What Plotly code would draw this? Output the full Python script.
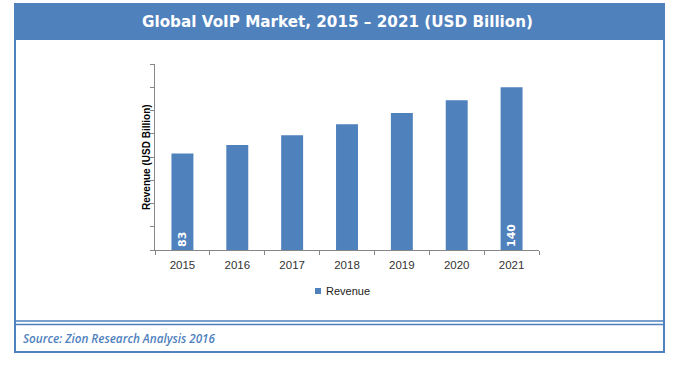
import plotly.graph_objects as go

years = ["2015", "2016", "2017", "2018", "2019", "2020", "2021"]
revenue = [83, 90.3, 98.7, 108.2, 117.9, 128.8, 140]
bar_labels = ["83", "", "", "", "", "", "140"]
series_name = "Revenue"
title_text = "Global VoIP Market, 2015 \u2013 2021 (USD Billion)"
y_title = "Revenue (USD Billion)"
source_text = "Source: Zion Research Analysis 2016"

W, H = 697, 366
L, R, T, B = 155, 539, 64, 250  # plot area in pixels
BLUE = "#4F81BD"


def px(x):
    return (x - L) / (R - L)


def py(y):
    return (B - y) / (B - T)


fig = go.Figure()
fig.add_trace(go.Bar(
    x=years, y=revenue, name=series_name, showlegend=False,
    marker=dict(color=BLUE, line=dict(width=0)),
    text=bar_labels, textposition="inside", insidetextanchor="start",
    textangle=-90,
    textfont=dict(family="DejaVu Sans", size=11, color="white", weight="bold"),
    cliponaxis=False,
))

shapes = [
    # header band
    dict(type="rect", xref="paper", yref="paper", x0=px(14), x1=px(665), y0=py(3), y1=py(39),
         fillcolor=BLUE, line=dict(width=0), layer="below"),
    # outer frame
    dict(type="rect", xref="paper", yref="paper", x0=px(15), x1=px(664), y0=py(39), y1=py(352),
         fillcolor="rgba(0,0,0,0)", line=dict(color=BLUE, width=2), layer="below"),
    # double separator
    dict(type="line", xref="paper", yref="paper", x0=px(15), x1=px(664), y0=py(321), y1=py(321),
         line=dict(color=BLUE, width=1.5)),
    dict(type="line", xref="paper", yref="paper", x0=px(15), x1=px(664), y0=py(324.5), y1=py(324.5),
         line=dict(color=BLUE, width=1.5)),
    # legend swatch
    dict(type="rect", xref="paper", yref="paper", x0=px(315), x1=px(321), y0=py(288), y1=py(294),
         fillcolor=BLUE, line=dict(width=0)),
]

annotations = [
    dict(text="<b>" + title_text + "</b>", xref="paper", yref="paper", x=px(337), y=py(21.5),
         xanchor="center", yanchor="middle", showarrow=False,
         font=dict(family="DejaVu Sans", size=15.2, color="white")),
    dict(text="<i>" + source_text + "</i>", xref="paper", yref="paper", x=px(21), y=py(337.5),
         xanchor="left", yanchor="middle", showarrow=False,
         font=dict(family="Open Sans", size=11.7, color="#4F81BD", weight=600)),
    dict(text="<b>" + y_title + "</b>", xref="paper", yref="paper", x=px(146), y=py(157),
         xanchor="center", yanchor="middle", showarrow=False, textangle=-90,
         font=dict(family="Liberation Sans", size=10, color="black")),
    dict(text=series_name, xref="paper", yref="paper", x=px(323.5), y=py(291),
         xanchor="left", yanchor="middle", showarrow=False,
         font=dict(family="Liberation Sans", size=11, color="#222")),
]

fig.update_layout(
    width=W, height=H,
    margin=dict(l=L, r=W - R, t=T, b=H - B),
    paper_bgcolor="white", plot_bgcolor="white",
    bargap=0.6,
    showlegend=False,
    shapes=shapes, annotations=annotations,
    xaxis=dict(showline=True, linecolor="#868686", linewidth=1, ticks="outside", ticklen=4,
               tickcolor="#868686", tickson="boundaries", showgrid=False, ticklabelstandoff=4,
               tickfont=dict(family="Liberation Sans", size=11.5, color="#333")),
    yaxis=dict(range=[0, 160], dtick=20, showticklabels=False, showline=True, linecolor="#868686",
               linewidth=1, ticks="outside", ticklen=4, tickcolor="#868686", showgrid=False,
               zeroline=False),
)

fig.write_html("out.html", config={"displayModeBar": False},
               post_script="document.body.style.margin='0';")
